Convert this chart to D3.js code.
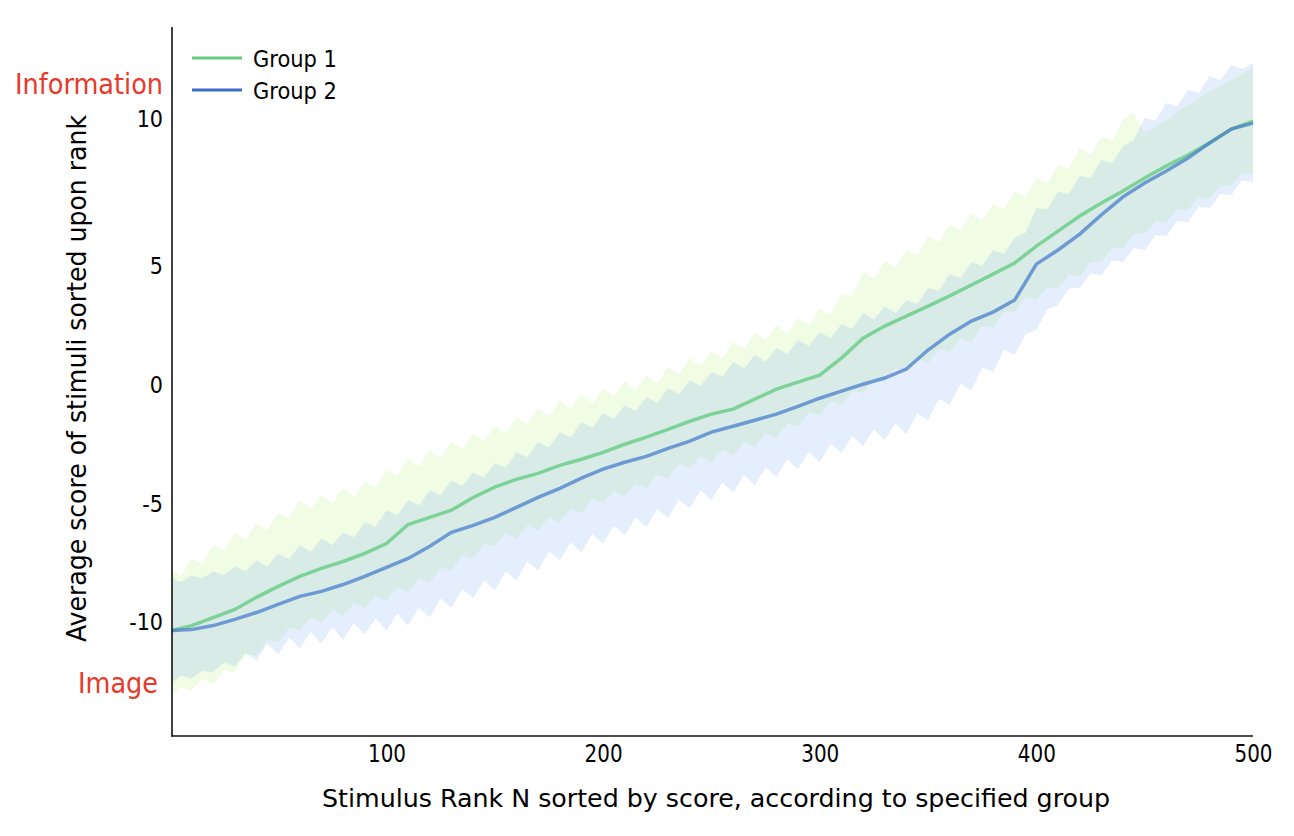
<!DOCTYPE html>
<html>
<head>
<meta charset="utf-8">
<script src="https://cdnjs.cloudflare.com/ajax/libs/d3/7.8.5/d3.min.js"></script>
<style>
  body { margin: 0; background: #ffffff; }
  text { font-family: "DejaVu Sans Condensed", "DejaVu Sans", sans-serif; font-stretch: condensed; }
</style>
</head>
<body>
<svg id="chart" width="1294" height="836"></svg>
<script>
// ---------- Data ---------- //

// stimulus ranks for the mean lines (every 10) and for the bands (every 5)
const lineRanks = [1].concat(d3.range(10, 501, 10));
const bandRanks = [1].concat(d3.range(5, 501, 5));

const g1Mean = [-10.34, -10.13, -9.79, -9.45, -8.94, -8.48, -8.06, -7.72, -7.43, -7.09,
  -6.67, -5.87, -5.57, -5.27, -4.73, -4.30, -3.97, -3.72, -3.38, -3.12,
  -2.83, -2.49, -2.19, -1.86, -1.52, -1.22, -1.01, -0.59, -0.17, 0.13,
  0.42, 1.14, 1.98, 2.49, 2.91, 3.33, 3.76, 4.22, 4.68, 5.12,
  5.69, 6.20, 6.71, 7.15, 7.56, 8.00, 8.41, 8.78, 9.19, 9.66, 9.93];

const g2Mean = [-10.34, -10.30, -10.13, -9.87, -9.58, -9.24, -8.90, -8.69, -8.40, -8.06,
  -7.68, -7.30, -6.79, -6.20, -5.91, -5.57, -5.15, -4.73, -4.35, -3.92,
  -3.54, -3.25, -3.00, -2.66, -2.36, -1.98, -1.73, -1.48, -1.22, -0.89,
  -0.55, -0.25, 0.04, 0.30, 0.68, 1.48, 2.15, 2.70, 3.08, 3.59,
  5.08, 5.56, 6.10, 6.75, 7.36, 7.83, 8.24, 8.68, 9.19, 9.66, 9.86];

const g1Upper = [-7.81, -8.06, -7.30, -7.53, -6.75, -6.98, -6.20, -6.52, -5.82, -6.12,
  -5.40, -5.63, -4.85, -5.23, -4.60, -4.98, -4.35, -4.70, -4.05, -4.32,
  -3.59, -3.84, -3.08, -3.42, -2.74, -3.06, -2.36, -2.70, -2.03, -2.36,
  -1.69, -2.03, -1.35, -1.67, -0.97, -1.31, -0.63, -1.01, -0.38, -0.76,
  -0.13, -0.49, 0.17, -0.21, 0.42, 0.08, 0.76, 0.44, 1.14, 0.78,
  1.43, 1.12, 1.81, 1.52, 2.24, 1.88, 2.53, 2.17, 2.83, 2.51,
  3.21, 3.00, 3.80, 3.78, 4.77, 4.49, 5.19, 4.96, 5.56, 5.39,
  6.03, 5.83, 6.44, 6.20, 6.78, 6.54, 7.12, 6.92, 7.53, 7.36,
  8.00, 7.81, 8.44, 8.32, 9.02, 8.80, 9.39, 9.27, 9.97, 10.20,
  9.53, 9.73, 9.97, 10.24, 10.47, 10.71, 10.92, 11.12, 11.32, 11.53, 11.73];

const g1Lower = [-13.08, -12.72, -12.87, -12.36, -12.62, -11.98, -12.11, -11.37, -11.39, -10.74,
  -10.84, -10.21, -10.34, -9.79, -10.00, -9.47, -9.70, -9.18, -9.41, -8.86,
  -9.07, -8.52, -8.73, -8.14, -8.31, -7.68, -7.81, -7.17, -7.30, -6.67,
  -6.79, -6.24, -6.46, -5.91, -6.12, -5.57, -5.78, -5.21, -5.40, -4.81,
  -4.98, -4.45, -4.68, -4.14, -4.35, -3.76, -3.92, -3.33, -3.50, -3.00,
  -3.25, -2.72, -2.95, -2.41, -2.62, -2.05, -2.24, -1.60, -1.73, -1.12,
  -1.27, -0.68, -0.84, -0.21, -0.34, 0.27, 0.13, 0.72, 0.55, 1.12,
  0.93, 1.54, 1.39, 1.98, 1.81, 2.49, 2.41, 3.12, 3.08, 3.71,
  3.59, 4.14, 4.09, 4.64, 4.60, 5.15, 5.15, 5.63, 5.63, 6.10,
  6.10, 6.54, 6.51, 6.95, 6.92, 7.36, 7.32, 7.76, 7.73, 8.17, 8.17];

const g2Upper = [-8.14, -8.29, -8.02, -8.14, -7.85, -8.00, -7.64, -7.85, -7.38, -7.66,
  -7.09, -7.34, -6.75, -7.03, -6.46, -6.75, -6.20, -6.41, -5.78, -5.95,
  -5.27, -5.49, -4.85, -5.06, -4.43, -4.64, -4.01, -4.26, -3.67, -3.90,
  -3.29, -3.48, -2.83, -3.04, -2.41, -2.62, -1.98, -2.19, -1.56, -1.79,
  -1.18, -1.43, -0.84, -1.10, -0.51, -0.74, -0.13, -0.38, 0.21, -0.04,
  0.55, 0.34, 0.97, 0.70, 1.27, 0.99, 1.56, 1.31, 1.90, 1.65,
  2.24, 1.98, 2.57, 2.38, 3.04, 2.76, 3.33, 3.04, 3.59, 3.42,
  4.09, 3.97, 4.68, 4.51, 5.15, 5.02, 5.56, 5.42, 5.97, 6.14,
  6.98, 6.92, 7.53, 7.46, 8.07, 8.00, 8.61, 8.51, 9.08, 9.29,
  10.03, 9.95, 10.54, 10.42, 10.98, 10.88, 11.46, 11.31, 11.83, 11.69, 11.90];

const g2Lower = [-12.53, -12.24, -12.36, -12.03, -12.11, -11.69, -11.86, -11.27, -11.60, -10.89,
  -11.35, -10.63, -11.10, -10.40, -10.89, -10.21, -10.72, -10.02, -10.51, -9.83,
  -10.34, -9.64, -10.13, -9.37, -9.79, -8.99, -9.37, -8.59, -8.99, -8.23,
  -8.65, -7.85, -8.23, -7.43, -7.81, -7.00, -7.38, -6.62, -7.05, -6.27,
  -6.67, -5.91, -6.33, -5.57, -5.99, -5.21, -5.61, -4.81, -5.19, -4.43,
  -4.85, -4.09, -4.51, -3.78, -4.22, -3.46, -3.88, -3.12, -3.54, -2.81,
  -3.25, -2.47, -2.87, -2.13, -2.57, -1.86, -2.32, -1.60, -2.07, -1.18,
  -1.48, -0.57, -0.84, 0.06, -0.21, 0.76, 0.55, 1.50, 1.27, 2.15,
  2.32, 3.19, 3.38, 4.07, 4.09, 4.70, 4.64, 5.20, 5.15, 5.63,
  5.56, 6.07, 6.03, 6.54, 6.51, 7.02, 6.98, 7.47, 7.42, 7.92, 7.86];

const xTicks = [100, 200, 300, 400, 500];
const yTicks = [-10, -5, 0, 5, 10];
const groupNames = ["Group 1", "Group 2"];

// ---------- Chart ---------- //

const svg = d3.select("#chart");

const x = d3.scaleLinear().domain([1, 500]).range([172, 1253]);
// tick labels on the original sit unevenly; the top segment is stretched
const y = d3.scaleLinear().domain([-10, 5, 10]).range([622.5, 266.5, 119]);

const bandArea = d3.area()
    .x((d, i) => x(bandRanks[i]))
    .y0(d => y(d[0]))
    .y1(d => y(d[1]));

const meanLine = d3.line()
    .x((d, i) => x(lineRanks[i]))
    .y(d => y(d));

// bands
svg.append("path")
    .datum(d3.zip(g1Lower, g1Upper))
    .attr("d", bandArea)
    .attr("fill", "rgba(180,240,120,0.2)");

svg.append("path")
    .datum(d3.zip(g2Lower, g2Upper))
    .attr("d", bandArea)
    .attr("fill", "rgba(120,170,240,0.2)");

// mean lines
svg.append("path")
    .datum(g1Mean)
    .attr("d", meanLine)
    .attr("fill", "none")
    .attr("stroke", "#6dcf88")
    .attr("stroke-opacity", 0.85)
    .attr("stroke-width", 3.5);

svg.append("path")
    .datum(g2Mean)
    .attr("d", meanLine)
    .attr("fill", "none")
    .attr("stroke", "#4a7fcc")
    .attr("stroke-opacity", 0.75)
    .attr("stroke-width", 3.5);

// axes
const xAxis = svg.append("g")
    .attr("transform", "translate(0,736)")
    .call(d3.axisBottom(x).tickValues(xTicks).tickSize(0).tickPadding(9));
xAxis.select(".domain").remove();
xAxis.selectAll("text")
    .attr("font-size", 24)
    .attr("fill", "#000")
    .attr("textLength", 38)
    .attr("lengthAdjust", "spacingAndGlyphs");

const yAxis = svg.append("g")
    .attr("transform", "translate(172,0)")
    .call(d3.axisLeft(y).tickValues(yTicks).tickFormat(d => String(d)).tickSize(0).tickPadding(9));
yAxis.select(".domain").remove();
yAxis.selectAll("text")
    .attr("font-size", 23)
    .attr("fill", "#000");

svg.append("line")
    .attr("x1", 172).attr("x2", 172)
    .attr("y1", 27).attr("y2", 736.5)
    .attr("stroke", "#111")
    .attr("stroke-width", 1.6);

svg.append("line")
    .attr("x1", 171.2).attr("x2", 1253)
    .attr("y1", 736).attr("y2", 736)
    .attr("stroke", "#111")
    .attr("stroke-width", 1.6);

// axis titles
svg.append("text")
    .attr("x", 716)
    .attr("y", 807)
    .attr("font-size", 24)
    .attr("text-anchor", "middle")
    .attr("textLength", 788)
    .attr("lengthAdjust", "spacingAndGlyphs")
    .text("Stimulus Rank N sorted by score, according to specified group");

svg.append("text")
    .attr("transform", "translate(86,378.5) rotate(-90)")
    .attr("font-size", 27)
    .attr("text-anchor", "middle")
    .attr("textLength", 527)
    .attr("lengthAdjust", "spacingAndGlyphs")
    .text("Average score of stimuli sorted upon rank");

// end labels of the score axis
svg.append("text")
    .attr("x", 163)
    .attr("y", 94)
    .attr("font-size", 28)
    .attr("text-anchor", "end")
    .attr("fill", "#e8392b")
    .attr("textLength", 148)
    .attr("lengthAdjust", "spacingAndGlyphs")
    .text("Information");

svg.append("text")
    .attr("x", 158)
    .attr("y", 693)
    .attr("font-size", 28)
    .attr("text-anchor", "end")
    .attr("fill", "#e8392b")
    .attr("textLength", 80)
    .attr("lengthAdjust", "spacingAndGlyphs")
    .text("Image");

// legend
const legendColors = ["#66cc7f", "#3a6cc8"];
const legend = svg.selectAll("g.legendItem")
    .data(groupNames)
    .enter().append("g")
    .attr("class", "legendItem")
    .attr("transform", (d, i) => "translate(0," + (58 + i * 32) + ")");

legend.append("line")
    .attr("x1", 192).attr("x2", 242)
    .attr("stroke", (d, i) => legendColors[i])
    .attr("stroke-width", 3);

legend.append("text")
    .attr("x", 253)
    .attr("y", 8.5)
    .attr("font-size", 23)
    .attr("textLength", 84)
    .attr("lengthAdjust", "spacingAndGlyphs")
    .text(d => d);
</script>
</body>
</html>
